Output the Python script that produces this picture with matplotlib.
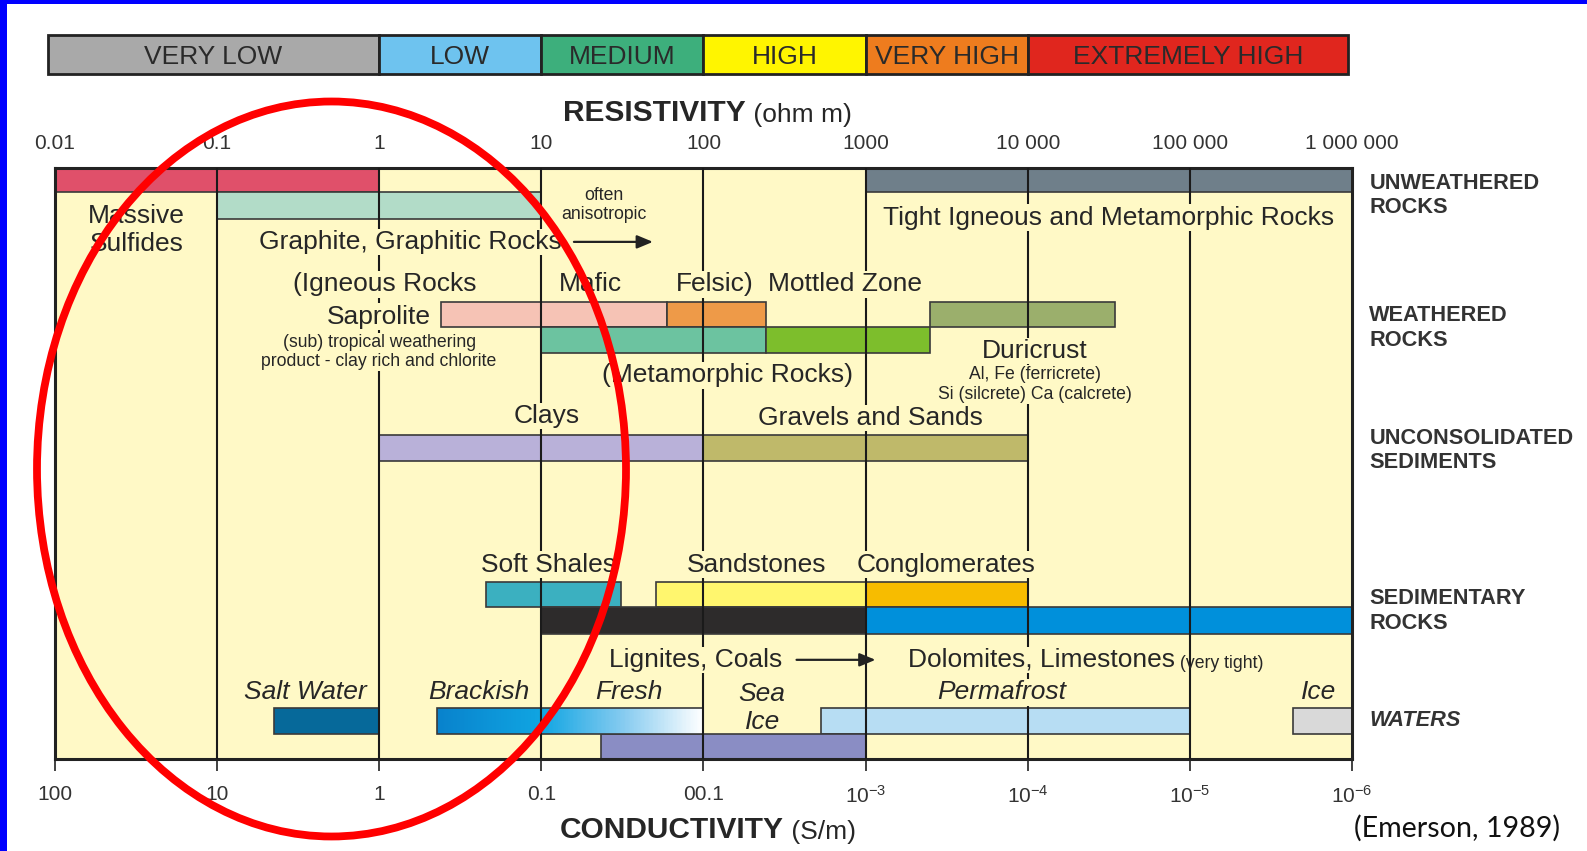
import numpy as np
import matplotlib
matplotlib.use('Agg')
import matplotlib.pyplot as plt
from matplotlib.patches import Rectangle, Ellipse
from matplotlib.colors import LinearSegmentedColormap
from matplotlib.ticker import NullLocator
import matplotlib.transforms as mtransforms

plt.rcParams['font.family'] = ['Liberation Sans', 'DejaVu Sans']
plt.rcParams['mathtext.default'] = 'regular'

# ---------------- data ----------------
decades = [0.01, 0.1, 1, 10, 100, 1000, 1e4, 1e5, 1e6]
resistivity_labels = ['0.01', '0.1', '1', '10', '100', '1000', '10 000', '100 000', '1 000 000']
conductivity_labels = ['100', '10', '1', '0.1', '00.1',
                       r'10$^{-3}$', r'10$^{-4}$', r'10$^{-5}$', r'10$^{-6}$']

scale_names = ['VERY LOW', 'LOW', 'MEDIUM', 'HIGH', 'VERY HIGH', 'EXTREMELY HIGH']
scale_edges = [0.00904, 1, 10, 100, 1000, 10000, 9.44e5]
scale_colors = ['#A9A9A9', '#6EC3EF', '#3DAF7C', '#FFF500', '#EE7C1E', '#E0261E']

bar_names = ['Massive Sulfides', 'Graphite', 'Tight Igneous and Metamorphic',
             'Saprolite', 'Mafic-Felsic', 'Duricrust',
             'Metamorphic', 'Mottled Zone',
             'Clays', 'Gravels and Sands',
             'Soft Shales', 'Sandstones', 'Conglomerates',
             'Lignites, Coals', 'Dolomites, Limestones',
             'Salt Water', 'Permafrost', 'Ice', 'Sea Ice']
bar_lo = [0.01, 0.1, 1000, 2.42, 59.6, 2500, 10, 244, 1, 100,
          4.55, 50.9, 1000, 10, 1000, 0.226, 530, 434500, 23.4]
bar_hi = [1, 10, 1e6, 59.6, 244, 34700, 244, 2500, 100, 10000,
          31.2, 1000, 10000, 1000, 1e6, 1, 1e5, 1e6, 1000]
bar_row = [0, 1, 0, 2, 2, 2, 3, 3, 4, 4, 5, 5, 5, 6, 6, 7, 7, 7, 8]
bar_colors = ['#E0506A', '#B2DCC8', '#6F7F8A', '#F6C3B5', '#EE9A48', '#9BAF6C',
              '#6CC3A0', '#7DBE2C', '#B9B1D9', '#BFB96A', '#3BB0C0', '#FFF66E',
              '#F7BC00', '#2D2B2B', '#0090DB', '#06699A', '#B7DDF3', '#D9D9D9',
              '#8A8DC4']

water_grad_lo, water_grad_hi = 2.29, 100          # Brackish -> Fresh
water_grad_stops = [(0.0, '#0882CC'), (0.39, '#10A5E2'), (0.7, '#86CBF0'), (1.0, '#FFFFFF')]

# ---------------- layout ----------------
row_spans = [(0, 24), (24, 50), (132, 157), (157, 183), (264, 290),
             (409, 434), (434, 460), (534, 559), (559, 584)]

BG = '#FFF9C6'
TXT = '#262626'
EDGE = '#3A3A3A'

W, H = 1587, 851
fig = plt.figure(figsize=(W / 100, H / 100), dpi=100)
fig.patch.set_facecolor('white')
ax = fig.add_axes([54.7 / W, 1 - 759 / H, (1352.2 - 54.7) / W, (759 - 168) / H])
ax.set_facecolor(BG)
ax.set_xscale('log')
ax.set_xlim(decades[0], decades[-1])
ax.set_ylim(584, 0)
ax.set_yticks([])
for s in ax.spines.values():
    s.set_linewidth(2.2)
    s.set_color('#222222')

# bottom ticks: conductivity
ax.set_xticks(decades)
ax.set_xticklabels(conductivity_labels)
ax.xaxis.set_minor_locator(NullLocator())
ax.tick_params(axis='x', direction='out', length=8.5, width=1.3, color='#333333',
               labelsize=15, labelcolor='#333333', pad=10)

# top labels: resistivity
sec = ax.secondary_xaxis('top')
sec.set_xticks(decades)
sec.set_xticklabels(resistivity_labels)
sec.xaxis.set_minor_locator(NullLocator())
sec.tick_params(axis='x', length=0, labelsize=15, labelcolor='#333333', pad=10.5)
sec.spines['top'].set_visible(False)

# bars
for lo, hi, r, c in zip(bar_lo, bar_hi, bar_row, bar_colors):
    y0, y1 = row_spans[r]
    ax.add_patch(Rectangle((lo, y0), hi - lo, y1 - y0, fc=c, ec=EDGE, lw=1.2, zorder=2))

# gradient bar (brackish -> fresh)
cmap = LinearSegmentedColormap.from_list('water', water_grad_stops)
n = 200
edges = np.logspace(np.log10(water_grad_lo), np.log10(water_grad_hi), n + 1)
y0, y1 = row_spans[7]
for i in range(n):
    ax.add_patch(Rectangle((edges[i], y0), (edges[i + 1] - edges[i]) * 1.02, y1 - y0,
                           fc=cmap((i + 0.5) / n), ec='none', lw=0, antialiased=False, zorder=2))
ax.add_patch(Rectangle((water_grad_lo, y0), water_grad_hi - water_grad_lo, y1 - y0,
                       fc='none', ec=EDGE, lw=1.2, zorder=2.1))

# vertical decade lines
for d in decades[1:-1]:
    ax.axvline(d, color='#1A1A1A', lw=1.5, zorder=3)

# scale legend bar above
ly0, ly1 = -131, -93
for i, (nm, c) in enumerate(zip(scale_names, scale_colors)):
    lo, hi = scale_edges[i], scale_edges[i + 1]
    ax.add_patch(Rectangle((lo, ly0), hi - lo, ly1 - ly0, fc=c, ec='#222222', lw=2,
                           zorder=2, clip_on=False))
    ax.text(np.sqrt(lo * hi), (ly0 + ly1) / 2 + 2, nm, ha='center', va='center', fontsize=19,
            color='#2A2A2A', clip_on=False, zorder=3)


def lab(txt, x, y, size=19, ha='center', style='normal', mask=True, ls=1.2):
    kw = {}
    if mask:
        kw['bbox'] = dict(boxstyle='square,pad=0.05', fc=BG, ec='none')
    return ax.text(x, y + 2, txt, ha=ha, va='center', fontsize=size, style=style,
                   linespacing=ls, color=TXT, zorder=5, clip_on=False,
                   multialignment='center', **kw)


lab('Massive\nSulfides', 0.032, 59, ls=1.22)
lab('Graphite, Graphitic Rocks', 1.57, 71)
lab('often\nanisotropic', 24.4, 34.5, size=12.7, ls=1.2)
lab('Tight Igneous and Metamorphic Rocks', 31300, 47)
lab('(Igneous Rocks', 1.08, 113)
lab('Mafic', 20, 113)
lab('Felsic)', 117, 113)
lab('Mottled Zone', 748, 113)
lab('Saprolite', 2.1, 145, ha='right')
lab('(sub) tropical weathering\nproduct - clay rich and chlorite', 1.0, 179.5, size=12.7, ls=1.15)
lab('(Metamorphic Rocks)', 141, 203)
lab('Duricrust', 11000, 179)
lab('Al, Fe (ferricrete)\nSi (silcrete) Ca (calcrete)', 11000, 212, size=12.7, ls=1.2)
lab('Clays', 10.8, 243)
lab('Gravels and Sands', 1070, 245)
lab('Soft Shales', 11.1, 390)
lab('Sandstones', 214, 390)
lab('Conglomerates', 3150, 390)
lab('Lignites, Coals', 89, 484)
t_dol = lab('Dolomites, Limestones', 1820, 484, ha='left')
ax.annotate(' (very tight)', xy=(1, 0.0), xycoords=t_dol, ha='left', va='bottom',
            fontsize=12.7, color=TXT, zorder=5)
lab('Salt Water', 0.353, 516, style='italic')
lab('Brackish', 4.12, 516, style='italic')
lab('Fresh', 34.5, 516, style='italic')
lab('Sea\nIce', 230, 531.5, style='italic', mask=False, ls=1.2)
lab('Permafrost', 6930, 516, style='italic')
lab('Ice', 622000, 516, style='italic')

# arrows
for (xa, xb, ya) in [(15.9, 48.8, 73), (375, 1150, 486)]:
    ax.annotate('', xy=(xb, ya), xytext=(xa, ya),
                arrowprops=dict(arrowstyle='-|>,head_length=0.6,head_width=0.25',
                                color='#222222', lw=1.6,
                                mutation_scale=16, shrinkA=0, shrinkB=0), zorder=5)

# right-hand group labels
tr = mtransforms.blended_transform_factory(ax.transAxes, ax.transData)
groups = ['UNWEATHERED\nROCKS', 'WEATHERED\nROCKS', 'UNCONSOLIDATED\nSEDIMENTS',
          'SEDIMENTARY\nROCKS', 'WATERS']
group_y = [27, 158, 279, 438, 546]
for g, gy in zip(groups, group_y):
    ax.text(1.0133, gy, g, transform=tr, ha='left', va='center', fontsize=15.7,
            weight='bold', style='italic' if g == 'WATERS' else 'normal',
            color='#333333', linespacing=1.22, clip_on=False)

# axis titles
t_res = ax.text(13.6, -54, 'RESISTIVITY', ha='left', va='center', fontsize=21.5,
                weight='bold', color='#262626', clip_on=False)
ax.annotate(' (ohm m)', xy=(1, 0), xycoords=t_res, ha='left', va='bottom',
            fontsize=19, color='#262626')
t_con = ax.text(13.0, 654, 'CONDUCTIVITY', ha='left', va='center', fontsize=21.5,
                weight='bold', color='#262626', clip_on=False)
ax.annotate(' (S/m)', xy=(1, 0), xycoords=t_con, ha='left', va='bottom',
            fontsize=19, color='#262626')

# citation
fig.text(1457.5 / W, 1 - 828 / H, '(Emerson, 1989)', ha='center', va='center',
         fontsize=20.6, family=['Lato', 'DejaVu Sans'], color='#111111')

# red ellipse annotation
fig.add_artist(Ellipse((331.5 / W, 1 - 469 / H), 589 / W, 735 / H, transform=fig.transFigure,
                       fill=False, ec='#FF0000', lw=5.6, zorder=20))

# slide border
fig.add_artist(Rectangle((0, 1 - 4 / H), 1, 4 / H, transform=fig.transFigure,
                         fc='#0000FF', ec='none', zorder=30))
fig.add_artist(Rectangle((0, 0), 7 / W, 1, transform=fig.transFigure,
                         fc='#0000FF', ec='none', zorder=30))

fig.savefig('out.png', dpi=100, facecolor='white')
